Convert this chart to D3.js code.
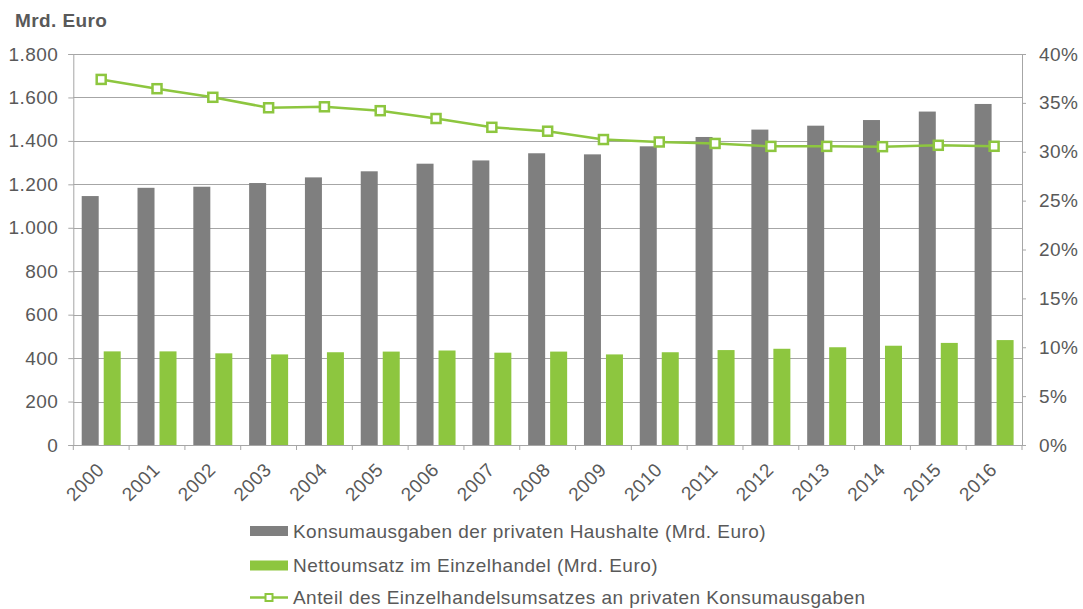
<!DOCTYPE html>
<html><head><meta charset="utf-8">
<script src="https://cdn.jsdelivr.net/npm/d3@7/dist/d3.min.js"></script>
<style>body{margin:0;background:#fff;font-family:"Liberation Sans",Arial,sans-serif;}</style>
</head><body><svg id="c" width="1083" height="609"></svg>
<script>
const years = ["2000","2001","2002","2003","2004","2005","2006","2007","2008","2009","2010","2011","2012","2013","2014","2015","2016"];
const konsum = [1146,1184,1189,1206,1232,1260,1295,1310,1343,1338,1375,1418,1452,1470,1496,1535,1570];
const einzelhandel = [431,431,422,417,427,430,435,425,430,417,427,437,443,450,457,470,483];
const anteil = [37.4,36.45,35.57,34.5,34.6,34.2,33.4,32.5,32.1,31.25,31.0,30.85,30.55,30.55,30.52,30.66,30.56];
const leftTicks = [0,200,400,600,800,1000,1200,1400,1600,1800];
const rightTicks = [0,5,10,15,20,25,30,35,40];
const legendLabels = ["Konsumausgaben der privaten Haushalte (Mrd. Euro)","Nettoumsatz im Einzelhandel (Mrd. Euro)","Anteil des Einzelhandelsumsatzes an privaten Konsumausgaben"];

const grey="#7f7f7f", green="#8dc63f", txt="#595959", grid="#a6a6a6";
const FS="19px", LS="0.45px";
const svg=d3.select("#c");
const L=73.3,R=1022,T=54,B=445;
const x=d3.scaleBand().domain(years).range([L,R]).paddingInner(0).paddingOuter(0);
const yL=d3.scaleLinear().domain([0,1800]).range([B,T]);
const yR=d3.scaleLinear().domain([0,40]).range([B,T]);
const fmt=d3.formatLocale({decimal:",",thousands:".",grouping:[3],currency:["","€"]}).format(",d");

// gridlines
svg.append("g").selectAll("line").data(leftTicks).join("line")
  .attr("x1",L).attr("x2",R).attr("y1",d=>Math.round(yL(d))+0.5).attr("y2",d=>Math.round(yL(d))+0.5)
  .attr("stroke",grid).attr("stroke-width",1);

// bars
const bw=17, gap=5;
const off=(x.bandwidth()-(2*bw+gap))/2;
svg.append("g").selectAll("rect").data(years).join("rect")
  .attr("x",d=>x(d)+off).attr("width",bw)
  .attr("y",(d,i)=>yL(konsum[i])).attr("height",(d,i)=>B-yL(konsum[i])).attr("fill",grey);
svg.append("g").selectAll("rect").data(years).join("rect")
  .attr("x",d=>x(d)+off+bw+gap).attr("width",bw)
  .attr("y",(d,i)=>yL(einzelhandel[i])).attr("height",(d,i)=>B-yL(einzelhandel[i])).attr("fill",green);

// axes
const axL=svg.append("g").attr("transform",`translate(${L},0)`)
  .call(d3.axisLeft(yL).tickValues(leftTicks).tickFormat(fmt).tickSize(5).tickPadding(10));
const axR=svg.append("g").attr("transform",`translate(${R},0)`)
  .call(d3.axisRight(yR).tickValues(rightTicks).tickFormat(d=>d+"%").tickSize(4).tickPadding(13));
const axB=svg.append("g").attr("transform",`translate(0,${B})`)
  .call(d3.axisBottom(x).tickSize(0).tickFormat(d=>d));
[axL,axR,axB].forEach(a=>{a.select(".domain").attr("stroke",grid);a.selectAll(".tick line").attr("stroke",grid);
  a.selectAll("text").attr("fill",txt).style("font-size",FS).style("letter-spacing",LS).style("font-family","Liberation Sans, Arial, sans-serif");});
axB.selectAll(".tick text").attr("text-anchor","end").attr("dy","0").attr("y",0)
  .attr("transform",`translate(4,26) rotate(-45)`);
// bottom boundary ticks
svg.append("g").selectAll("line").data(d3.range(years.length+1)).join("line")
  .attr("x1",i=>L+i*x.bandwidth()).attr("x2",i=>L+i*x.bandwidth()).attr("y1",B).attr("y2",B+5)
  .attr("stroke",grid);

// line
const cx=i=>x(years[i])+x.bandwidth()/2;
svg.append("path").datum(anteil).attr("fill","none").attr("stroke",green).attr("stroke-width",2.5)
  .attr("d",d3.line().x((d,i)=>cx(i)).y(d=>yR(d)));
svg.append("g").selectAll("rect").data(anteil).join("rect")
  .attr("x",(d,i)=>cx(i)-4.5).attr("y",d=>yR(d)-4.5).attr("width",9).attr("height",9)
  .attr("fill","#fff").attr("stroke",green).attr("stroke-width",2.5);

// title
svg.append("text").attr("x",15).attr("y",27).attr("fill",txt).style("font-size",FS).style("letter-spacing","0.4px").style("font-weight","bold").text("Mrd. Euro");

// legend
const lg=svg.append("g");
const rows=[531,565.5,597.5];
lg.append("rect").attr("x",250).attr("y",rows[0]-5).attr("width",38).attr("height",10).attr("fill",grey);
lg.append("rect").attr("x",250).attr("y",rows[1]-5).attr("width",38).attr("height",10).attr("fill",green);
lg.append("line").attr("x1",250).attr("x2",288).attr("y1",rows[2]).attr("y2",rows[2]).attr("stroke",green).attr("stroke-width",2.5);
lg.append("rect").attr("x",265.5).attr("y",rows[2]-3.5).attr("width",7).attr("height",7).attr("fill","#fff").attr("stroke",green).attr("stroke-width",2);
lg.selectAll("text").data(legendLabels).join("text").attr("x",293).attr("y",(d,i)=>rows[i]).attr("dy","0.35em")
  .attr("fill",txt).style("font-size",FS).style("letter-spacing",LS).text(d=>d);
</script></body></html>
